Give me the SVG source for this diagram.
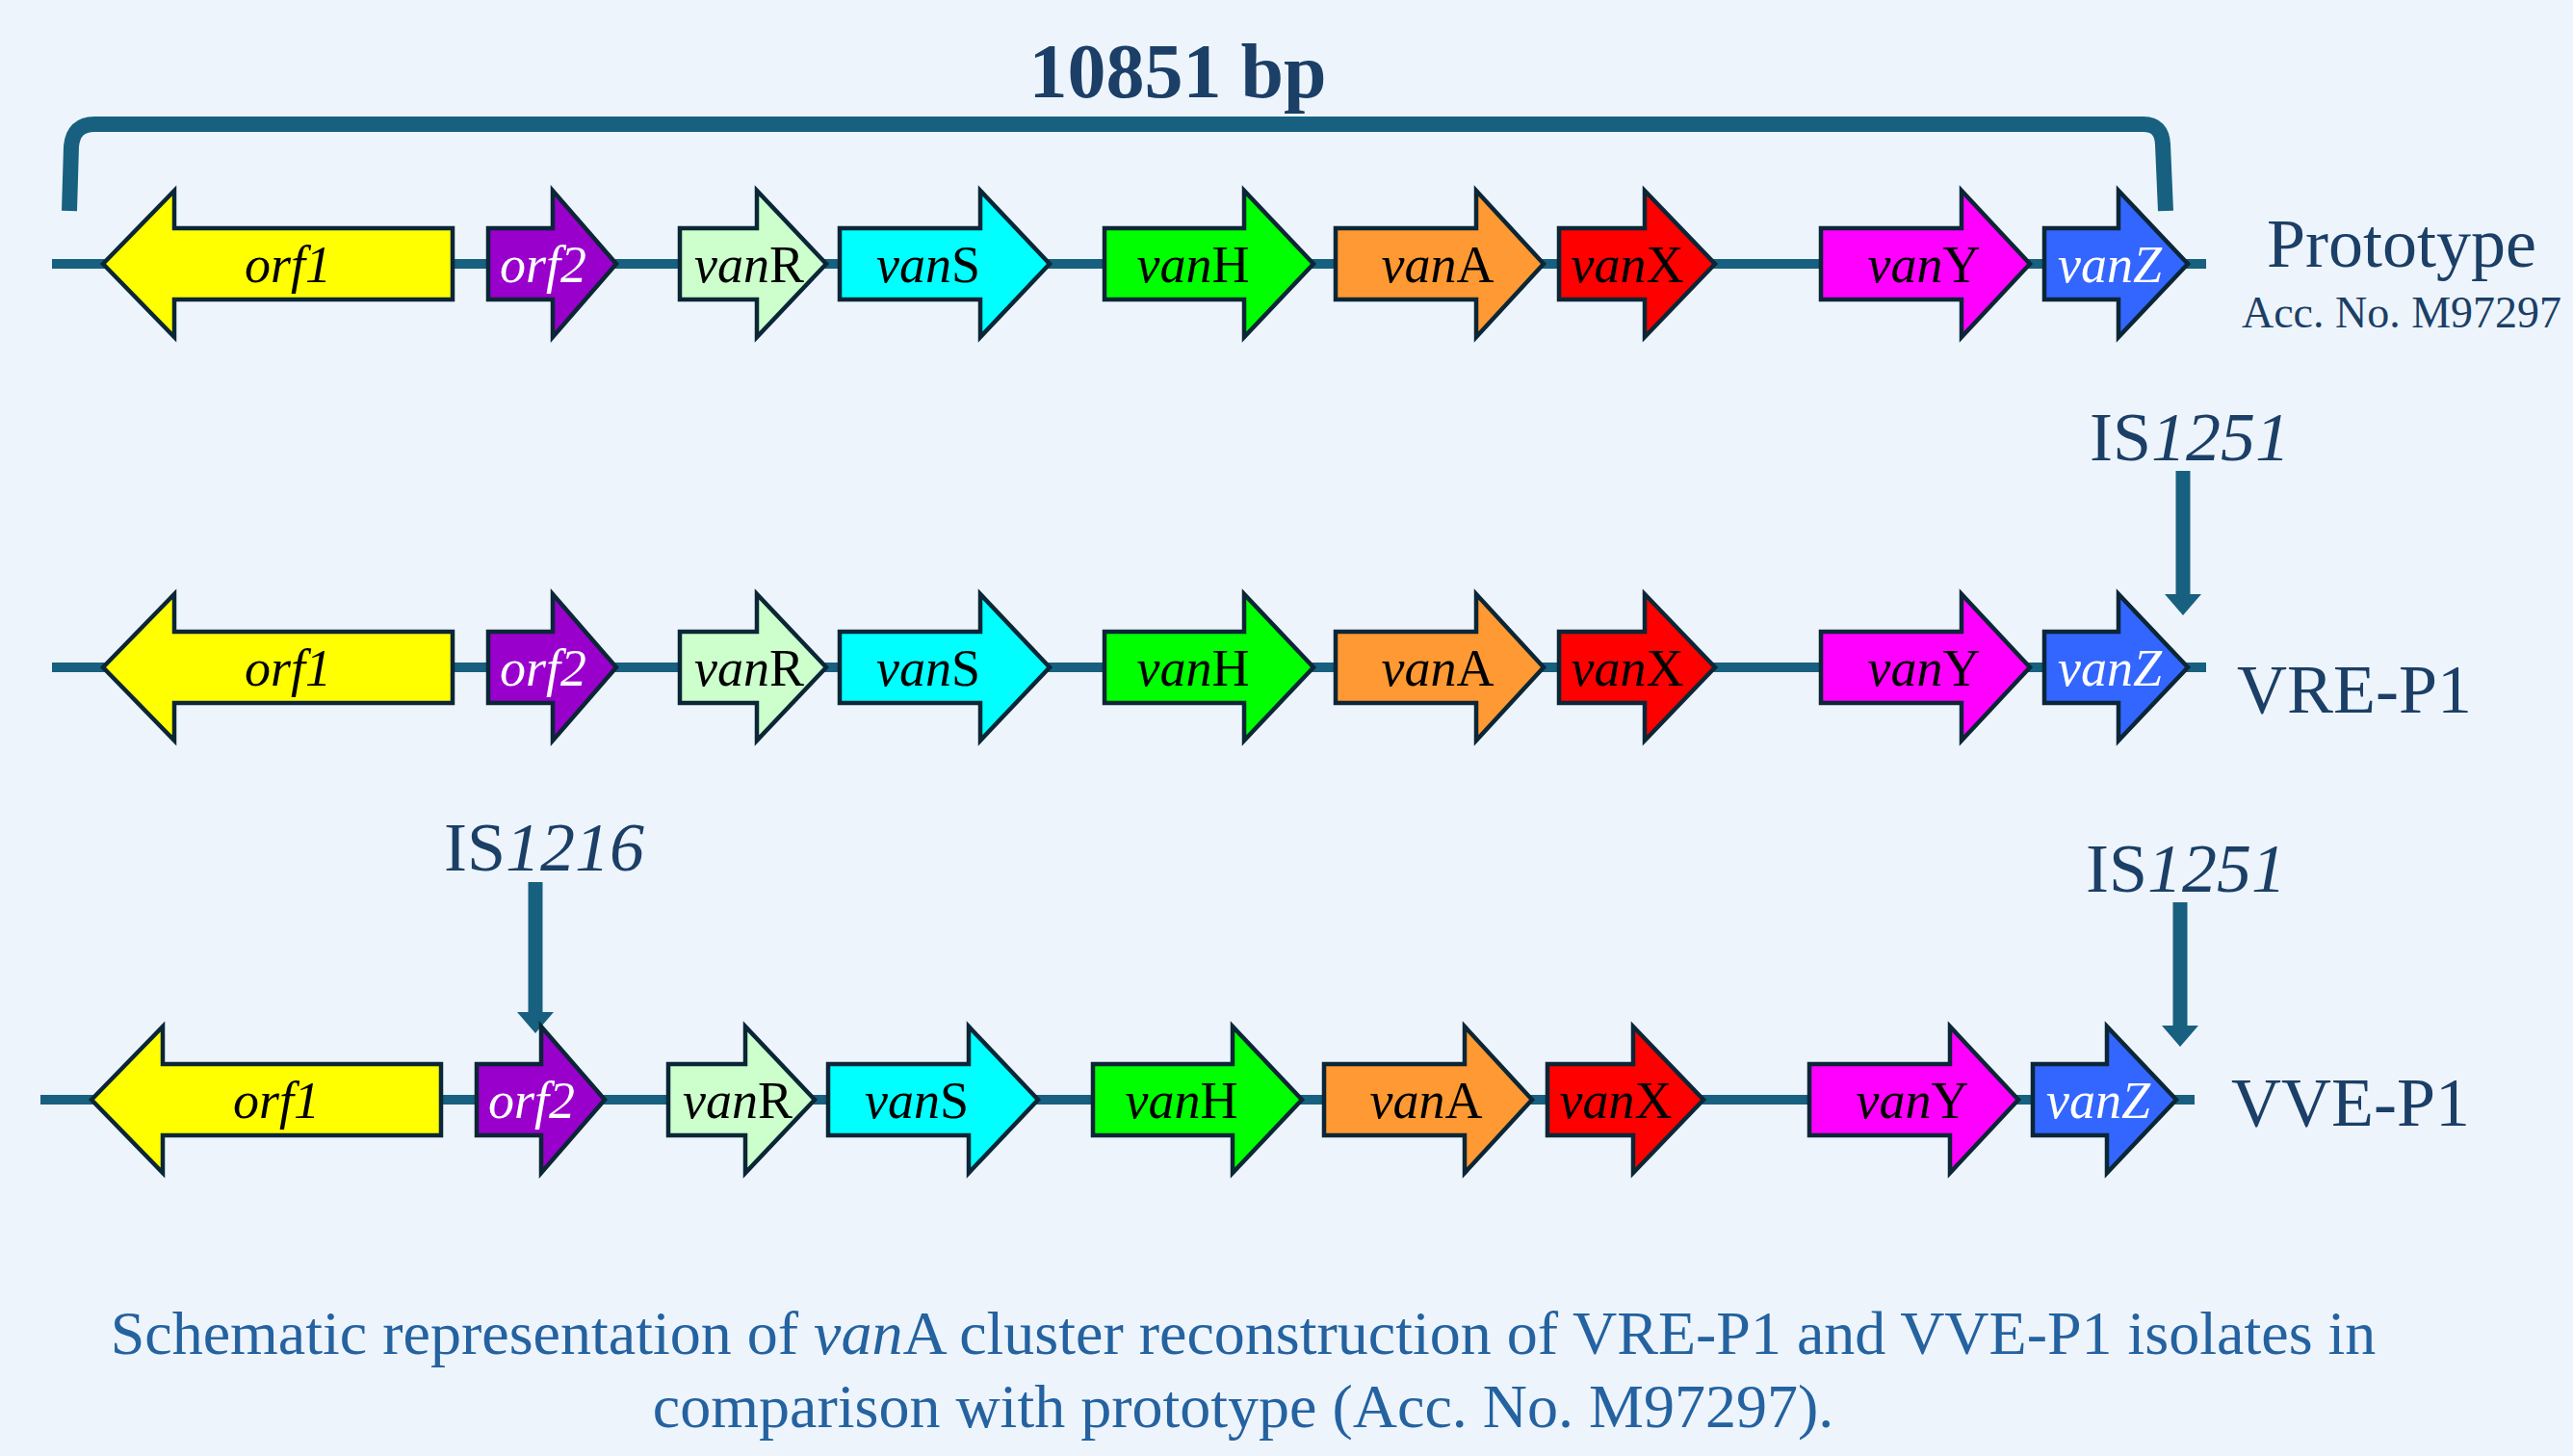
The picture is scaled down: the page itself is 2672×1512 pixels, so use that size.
<svg xmlns="http://www.w3.org/2000/svg" width="2672" height="1512" viewBox="0 0 2672 1512">
<style>
.bg{fill:#edf4fc}
.gene{stroke:#0b2636;stroke-width:4.5;stroke-linejoin:miter}
.gl{font-family:"Liberation Serif","Times New Roman",serif;font-size:54px;text-anchor:middle;fill:#000}
.w{fill:#fff}
.it{font-style:italic}
.line{stroke:#17607f;stroke-width:10;fill:none}
.brk{stroke:#17607f;stroke-width:16;fill:none}
.ins{stroke:#17607f;stroke-width:15;fill:none}
.lbl{font-family:"Liberation Serif","Times New Roman",serif;fill:#1b3f66}
.cap{font-family:"Liberation Serif","Times New Roman",serif;font-size:64px;fill:#2462a0;text-anchor:middle}
</style>
<defs>
<marker id="ah" markerUnits="userSpaceOnUse" viewBox="0 0 22 38" refX="0" refY="19" markerWidth="22" markerHeight="38" orient="auto">
<path d="M0,0 L22,19 L0,38 Z" fill="#17607f"/>
</marker>
</defs>
<rect class="bg" x="0" y="0" width="2672" height="1512"/>

<g id="connectors">
<path class="brk" d="M72,219 L74,152 Q76,129 98,129 L2226,129 Q2245,129 2246,150 L2249,219"/>
<line class="line" x1="54" y1="274" x2="2291" y2="274"/>
<line class="line" x1="54" y1="693" x2="2291" y2="693"/>
<line class="line" x1="42" y1="1142" x2="2279" y2="1142"/>
<line class="ins" x1="2267" y1="489" x2="2267" y2="617" marker-end="url(#ah)"/>
<line class="ins" x1="2264" y1="937" x2="2264" y2="1065" marker-end="url(#ah)"/>
<line class="ins" x1="556" y1="916" x2="556" y2="1051" marker-end="url(#ah)"/>
</g>

<g id="title"><text class="lbl" x="1223" y="101" font-size="80" font-weight="bold" text-anchor="middle" fill="#183d63">10851 bp</text></g>

<!-- Row 1: Prototype -->
<g id="r1-orf1"><polygon class="gene" fill="#ffff00" points="107,274 181,198 181,237 470,237 470,311 181,311 181,350"/><text class="gl it" x="299" y="293">orf1</text></g>
<g id="r1-orf2"><polygon class="gene" fill="#9900cc" points="507,237 574,237 574,198 640,274 574,350 574,311 507,311"/><text class="gl it w" x="564" y="293">orf2</text></g>
<g id="r1-vanR"><polygon class="gene" fill="#ccffcc" points="706,237 786,237 786,198 858,274 786,350 786,311 706,311"/><text class="gl" x="778" y="293"><tspan class="it">van</tspan>R</text></g>
<g id="r1-vanS"><polygon class="gene" fill="#00ffff" points="872,237 1018,237 1018,198 1090,274 1018,350 1018,311 872,311"/><text class="gl" x="964" y="293"><tspan class="it">van</tspan>S</text></g>
<g id="r1-vanH"><polygon class="gene" fill="#00ff00" points="1147,237 1292,237 1292,198 1364,274 1292,350 1292,311 1147,311"/><text class="gl" x="1239" y="293"><tspan class="it">van</tspan>H</text></g>
<g id="r1-vanA"><polygon class="gene" fill="#ff9933" points="1387,237 1533,237 1533,198 1603,274 1533,350 1533,311 1387,311"/><text class="gl" x="1493" y="293"><tspan class="it">van</tspan>A</text></g>
<g id="r1-vanX"><polygon class="gene" fill="#ff0000" points="1619,237 1708,237 1708,198 1781,274 1708,350 1708,311 1619,311"/><text class="gl" x="1690" y="293"><tspan class="it">van</tspan>X</text></g>
<g id="r1-vanY"><polygon class="gene" fill="#ff00ff" points="1891,237 2037,237 2037,198 2108,274 2037,350 2037,311 1891,311"/><text class="gl" x="1998" y="293"><tspan class="it">van</tspan>Y</text></g>
<g id="r1-vanZ"><polygon class="gene" fill="#3366ff" points="2123,237 2200,237 2200,198 2272,274 2200,350 2200,311 2123,311"/><text class="gl it w" x="2191" y="293">vanZ</text></g>
<g id="label-prototype"><text class="lbl" x="2494" y="277" font-size="72" text-anchor="middle">Prototype</text><text class="lbl" x="2494" y="340" font-size="46" text-anchor="middle">Acc. No. M97297</text></g>

<!-- Row 2: VRE-P1 -->
<g id="r2-orf1" transform="translate(0,419)"><polygon class="gene" fill="#ffff00" points="107,274 181,198 181,237 470,237 470,311 181,311 181,350"/><text class="gl it" x="299" y="293">orf1</text></g>
<g id="r2-orf2" transform="translate(0,419)"><polygon class="gene" fill="#9900cc" points="507,237 574,237 574,198 640,274 574,350 574,311 507,311"/><text class="gl it w" x="564" y="293">orf2</text></g>
<g id="r2-vanR" transform="translate(0,419)"><polygon class="gene" fill="#ccffcc" points="706,237 786,237 786,198 858,274 786,350 786,311 706,311"/><text class="gl" x="778" y="293"><tspan class="it">van</tspan>R</text></g>
<g id="r2-vanS" transform="translate(0,419)"><polygon class="gene" fill="#00ffff" points="872,237 1018,237 1018,198 1090,274 1018,350 1018,311 872,311"/><text class="gl" x="964" y="293"><tspan class="it">van</tspan>S</text></g>
<g id="r2-vanH" transform="translate(0,419)"><polygon class="gene" fill="#00ff00" points="1147,237 1292,237 1292,198 1364,274 1292,350 1292,311 1147,311"/><text class="gl" x="1239" y="293"><tspan class="it">van</tspan>H</text></g>
<g id="r2-vanA" transform="translate(0,419)"><polygon class="gene" fill="#ff9933" points="1387,237 1533,237 1533,198 1603,274 1533,350 1533,311 1387,311"/><text class="gl" x="1493" y="293"><tspan class="it">van</tspan>A</text></g>
<g id="r2-vanX" transform="translate(0,419)"><polygon class="gene" fill="#ff0000" points="1619,237 1708,237 1708,198 1781,274 1708,350 1708,311 1619,311"/><text class="gl" x="1690" y="293"><tspan class="it">van</tspan>X</text></g>
<g id="r2-vanY" transform="translate(0,419)"><polygon class="gene" fill="#ff00ff" points="1891,237 2037,237 2037,198 2108,274 2037,350 2037,311 1891,311"/><text class="gl" x="1998" y="293"><tspan class="it">van</tspan>Y</text></g>
<g id="r2-vanZ" transform="translate(0,419)"><polygon class="gene" fill="#3366ff" points="2123,237 2200,237 2200,198 2272,274 2200,350 2200,311 2123,311"/><text class="gl it w" x="2191" y="293">vanZ</text></g>
<g id="label-vre"><text class="lbl" x="2323" y="740" font-size="72">VRE-P1</text></g>
<g id="is1251-a"><text class="lbl" x="2274" y="478" font-size="72" text-anchor="middle">IS<tspan font-style="italic">1251</tspan></text></g>

<!-- Row 3: VVE-P1 -->
<g id="r3-orf1" transform="translate(-12,868)"><polygon class="gene" fill="#ffff00" points="107,274 181,198 181,237 470,237 470,311 181,311 181,350"/><text class="gl it" x="299" y="293">orf1</text></g>
<g id="r3-orf2" transform="translate(-12,868)"><polygon class="gene" fill="#9900cc" points="507,237 574,237 574,198 640,274 574,350 574,311 507,311"/><text class="gl it w" x="564" y="293">orf2</text></g>
<g id="r3-vanR" transform="translate(-12,868)"><polygon class="gene" fill="#ccffcc" points="706,237 786,237 786,198 858,274 786,350 786,311 706,311"/><text class="gl" x="778" y="293"><tspan class="it">van</tspan>R</text></g>
<g id="r3-vanS" transform="translate(-12,868)"><polygon class="gene" fill="#00ffff" points="872,237 1018,237 1018,198 1090,274 1018,350 1018,311 872,311"/><text class="gl" x="964" y="293"><tspan class="it">van</tspan>S</text></g>
<g id="r3-vanH" transform="translate(-12,868)"><polygon class="gene" fill="#00ff00" points="1147,237 1292,237 1292,198 1364,274 1292,350 1292,311 1147,311"/><text class="gl" x="1239" y="293"><tspan class="it">van</tspan>H</text></g>
<g id="r3-vanA" transform="translate(-12,868)"><polygon class="gene" fill="#ff9933" points="1387,237 1533,237 1533,198 1603,274 1533,350 1533,311 1387,311"/><text class="gl" x="1493" y="293"><tspan class="it">van</tspan>A</text></g>
<g id="r3-vanX" transform="translate(-12,868)"><polygon class="gene" fill="#ff0000" points="1619,237 1708,237 1708,198 1781,274 1708,350 1708,311 1619,311"/><text class="gl" x="1690" y="293"><tspan class="it">van</tspan>X</text></g>
<g id="r3-vanY" transform="translate(-12,868)"><polygon class="gene" fill="#ff00ff" points="1891,237 2037,237 2037,198 2108,274 2037,350 2037,311 1891,311"/><text class="gl" x="1998" y="293"><tspan class="it">van</tspan>Y</text></g>
<g id="r3-vanZ" transform="translate(-12,868)"><polygon class="gene" fill="#3366ff" points="2123,237 2200,237 2200,198 2272,274 2200,350 2200,311 2123,311"/><text class="gl it w" x="2191" y="293">vanZ</text></g>
<g id="label-vve"><text class="lbl" x="2317" y="1169" font-size="72">VVE-P1</text></g>
<g id="is1251-b"><text class="lbl" x="2270" y="926" font-size="72" text-anchor="middle">IS<tspan font-style="italic">1251</tspan></text></g>
<g id="is1216"><text class="lbl" x="565" y="904" font-size="72" text-anchor="middle">IS<tspan font-style="italic">1216</tspan></text></g>

<g id="caption">
<text class="cap" x="1291" y="1406">Schematic representation of <tspan font-style="italic">van</tspan>A cluster reconstruction of VRE-P1 and VVE-P1 isolates in</text>
<text class="cap" x="1291" y="1482">comparison with prototype (Acc. No. M97297).</text>
</g>
</svg>
